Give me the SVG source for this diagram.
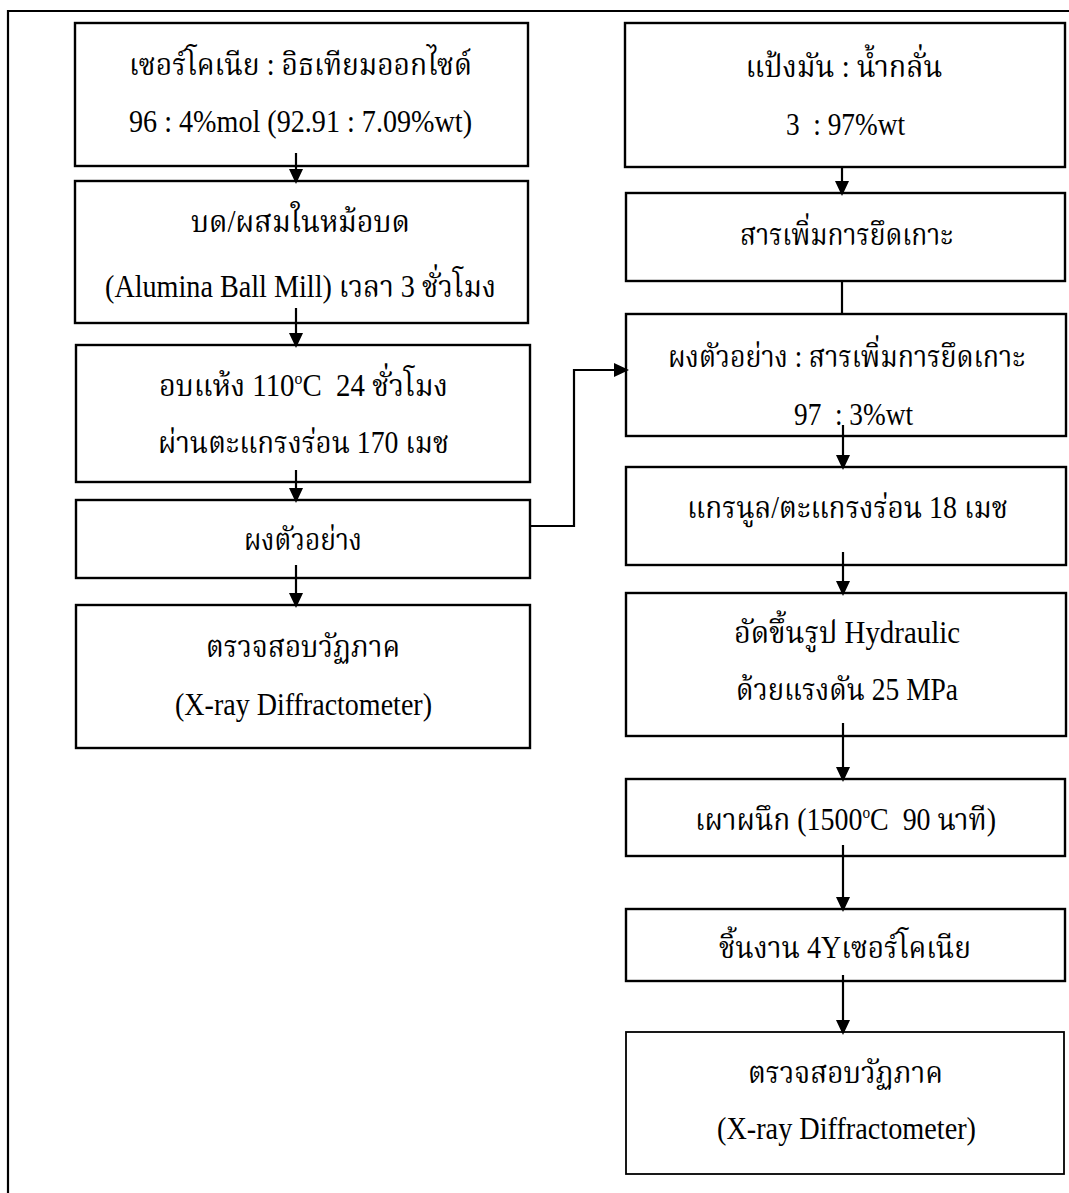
<svg xmlns="http://www.w3.org/2000/svg" width="1069" height="1193" viewBox="0 0 1069 1193">
<style>
.frame{fill:none;stroke:#000;stroke-width:2.2}
.box{fill:none;stroke:#000;stroke-width:2.4}
.thin{stroke-width:1.8}
.t{font-family:"Liberation Serif","Noto Serif Thai","Noto Sans Thai","Tlwg Typo","Loma",serif;font-size:31px;fill:#000;text-anchor:middle;white-space:pre}
.sup{font-size:17px}
.c{fill:none;stroke:#000;stroke-width:2.2}
</style>
<defs>
<marker id="ah" viewBox="0 0 15 14" markerWidth="15" markerHeight="14" refX="13" refY="7" orient="auto" markerUnits="userSpaceOnUse">
<path d="M0,0 L15,7 L0,14 z" fill="#000"/>
</marker>
</defs>
<rect width="1069" height="1193" fill="#fff"/>
<path class="frame" d="M8,1193 V11 H1069"/>

<g id="connectors">
<path class="c" d="M296,153 V182" marker-end="url(#ah)"/>
<path class="c" d="M296,308 V346" marker-end="url(#ah)"/>
<path class="c" d="M296,470 V501" marker-end="url(#ah)"/>
<path class="c" d="M296,565 V606" marker-end="url(#ah)"/>
<path class="c" d="M530,526 H574 V370 H627" marker-end="url(#ah)"/>
<path class="c" d="M842,167 V194" marker-end="url(#ah)"/>
<path class="c" d="M842,281 V314"/>
<path class="c" d="M843,425 V468" marker-end="url(#ah)"/>
<path class="c" d="M843,552 V594" marker-end="url(#ah)"/>
<path class="c" d="M843,723 V780" marker-end="url(#ah)"/>
<path class="c" d="M843,845 V910" marker-end="url(#ah)"/>
<path class="c" d="M843,975 V1033" marker-end="url(#ah)"/>
</g>

<g id="n1"><rect class="box" x="75" y="23" width="453" height="143"/>
<text class="t" x="300.5" y="75" textLength="343" lengthAdjust="spacingAndGlyphs">เซอร์โคเนีย : อิธเทียมออกไซด์</text>
<text class="t" x="300.5" y="132" textLength="343" lengthAdjust="spacingAndGlyphs">96 : 4%mol (92.91 : 7.09%wt)</text></g>

<g id="n2"><rect class="box" x="75" y="181" width="453" height="142"/>
<text class="t" x="300.5" y="232" textLength="219" lengthAdjust="spacingAndGlyphs">บด/ผสมในหม้อบด</text>
<text class="t" x="300.5" y="297" textLength="391" lengthAdjust="spacingAndGlyphs">(Alumina Ball Mill) เวลา 3 ชั่วโมง</text></g>

<g id="n3"><rect class="box" x="76" y="345" width="454" height="137"/>
<text class="t" x="303.5" y="396" textLength="289" lengthAdjust="spacingAndGlyphs">อบแห้ง 110<tspan class="sup" dy="-12">o</tspan><tspan dy="12">C  24 ชั่วโมง</tspan></text>
<text class="t" x="303.5" y="453" textLength="291" lengthAdjust="spacingAndGlyphs">ผ่านตะแกรงร่อน 170 เมช</text></g>

<g id="n4"><rect class="box" x="76" y="500" width="454" height="78"/>
<text class="t" x="303" y="550" textLength="118" lengthAdjust="spacingAndGlyphs">ผงตัวอย่าง</text></g>

<g id="n5"><rect class="box" x="76" y="605" width="454" height="143"/>
<text class="t" x="303" y="657" textLength="194" lengthAdjust="spacingAndGlyphs">ตรวจสอบวัฏภาค</text>
<text class="t" x="303.5" y="715" textLength="257" lengthAdjust="spacingAndGlyphs">(X-ray Diffractometer)</text></g>

<g id="n6"><rect class="box" x="625" y="23" width="440" height="144"/>
<text class="t" x="844" y="77" textLength="197" lengthAdjust="spacingAndGlyphs">แป้งมัน : น้ำกลั่น</text>
<text class="t" x="845.5" y="135" textLength="119" lengthAdjust="spacingAndGlyphs">3  : 97%wt</text></g>

<g id="n7"><rect class="box" x="626" y="193" width="439" height="88"/>
<text class="t" x="846.5" y="245" textLength="213" lengthAdjust="spacingAndGlyphs">สารเพิ่มการยึดเกาะ</text></g>

<g id="n8"><rect class="box" x="626" y="314" width="440" height="122"/>
<text class="t" x="846.5" y="367" textLength="357" lengthAdjust="spacingAndGlyphs">ผงตัวอย่าง : สารเพิ่มการยึดเกาะ</text>
<text class="t" x="853.5" y="425" textLength="119" lengthAdjust="spacingAndGlyphs">97  : 3%wt</text></g>

<g id="n9"><rect class="box" x="626" y="467" width="440" height="98"/>
<text class="t" x="847.5" y="518" textLength="321" lengthAdjust="spacingAndGlyphs">แกรนูล/ตะแกรงร่อน 18 เมช</text></g>

<g id="n10"><rect class="box" x="626" y="593" width="440" height="143"/>
<text class="t" x="847" y="643" textLength="226" lengthAdjust="spacingAndGlyphs">อัดขึ้นรูป Hydraulic</text>
<text class="t" x="847" y="700" textLength="222" lengthAdjust="spacingAndGlyphs">ด้วยแรงดัน 25 MPa</text></g>

<g id="n11"><rect class="box" x="626" y="779" width="439" height="77"/>
<text class="t" x="845.5" y="830" textLength="301" lengthAdjust="spacingAndGlyphs">เผาผนึก (1500<tspan class="sup" dy="-12">o</tspan><tspan dy="12">C  90 นาที)</tspan></text></g>

<g id="n12"><rect class="box" x="626" y="909" width="439" height="72"/>
<text class="t" x="845" y="958" textLength="252" lengthAdjust="spacingAndGlyphs">ชิ้นงาน 4Yเซอร์โคเนีย</text></g>

<g id="n13"><rect class="box thin" x="626" y="1032" width="438" height="142"/>
<text class="t" x="845.5" y="1083" textLength="195" lengthAdjust="spacingAndGlyphs">ตรวจสอบวัฏภาค</text>
<text class="t" x="846.5" y="1139" textLength="259" lengthAdjust="spacingAndGlyphs">(X-ray Diffractometer)</text></g>
</svg>
